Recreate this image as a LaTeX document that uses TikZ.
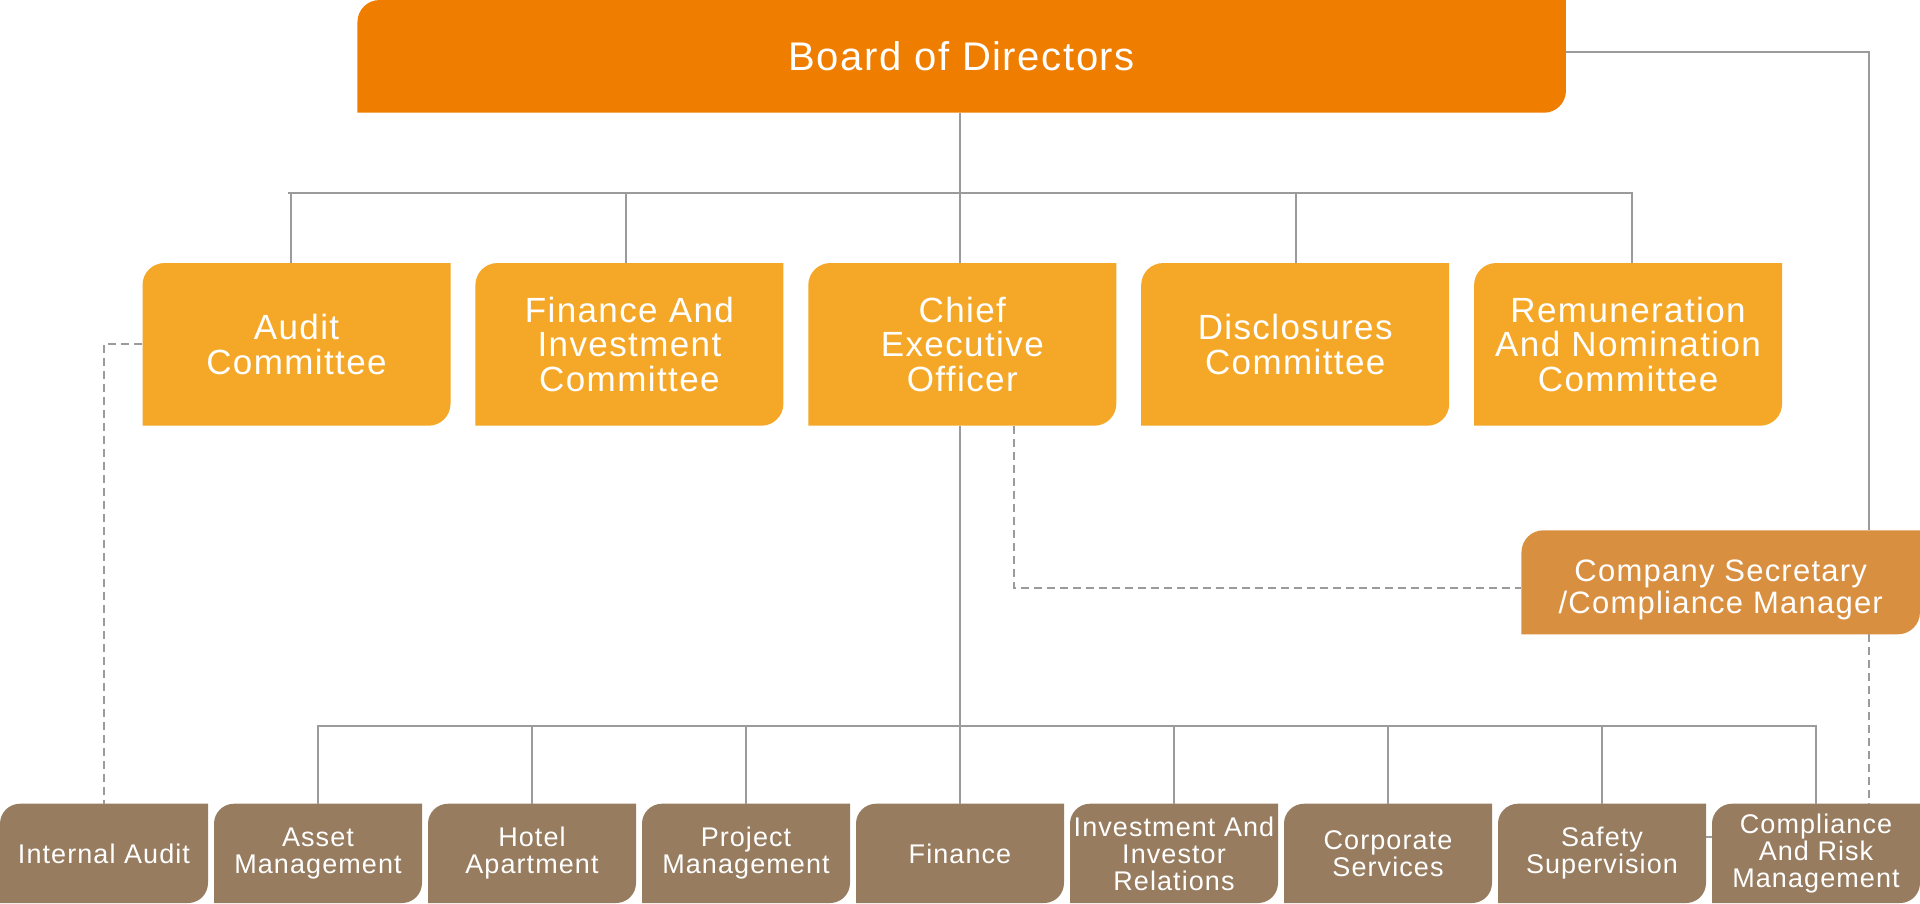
\documentclass[tikz,border=0pt]{standalone}
\usepackage{fontspec}
\setmainfont{Liberation Sans}[LetterSpace=4]
\definecolor{boardorange}{HTML}{EF7D00}
\definecolor{comorange}{HTML}{F5A828}
\definecolor{secorange}{HTML}{D98F40}
\definecolor{deptbrown}{HTML}{977C5F}
\definecolor{linegray}{HTML}{9B9B9B}
\begin{document}
\begin{tikzpicture}[x=1pt,y=1pt,
    box/.style 2 args={inner sep=0pt, text=white, align=center,
      path picture={\fill[#1] (path picture bounding box.south west)
        -- ([yshift=-#2]path picture bounding box.north west)
        arc[start angle=180,end angle=90,radius=#2]
        -- (path picture bounding box.north east)
        -- ([yshift=#2]path picture bounding box.south east)
        arc[start angle=0,end angle=-90,radius=#2] -- cycle;}},
    board/.style={box={boardorange}{22pt}, minimum width=1208.5, minimum height=112.7,
      font=\fontsize{40}{40}\selectfont},
    com/.style={box={comorange}{22pt}, minimum width=308, minimum height=162.7,
      font=\fontsize{35}{34.5}\selectfont},
    sec/.style={box={secorange}{22pt}, minimum width=398.5, minimum height=104,
      font=\fontsize{31}{30}\selectfont},
    dept/.style={box={deptbrown}{20pt}, minimum width=208, minimum height=99.3,
      font=\fontsize{27}{27}\selectfont},
    solidlink/.style={draw=linegray, line width=2pt},
    dashlink/.style={draw=linegray, line width=2pt, dash pattern=on 8pt off 5pt}]
  \useasboundingbox (0,0) rectangle (1920,904);
  \node[board] (bd) at (961.7,847.6) {Board of Directors};
  \node[com] (ac) at (296.5,559.6) {Audit\\Committee};
  \node[com] (fic) at (629.4,559.6) {Finance And\\Investment\\Committee};
  \node[com] (ceo) at (962.3,559.6) {Chief\\Executive\\Officer};
  \node[com] (dc) at (1295.2,559.6) {Disclosures\\Committee};
  \node[com] (rnc) at (1628.1,559.6) {Remuneration\\And Nomination\\Committee};
  \node[sec] (cs) at (1720.7,321.7) {\raisebox{-15pt}[0pt][0pt]{\begin{tabular}{@{}c@{}}Company Secretary\\/Compliance Manager\end{tabular}}};
  \node[dept] (ia) at (104,50.6) {Internal Audit};
  \node[dept] (am) at (318,50.6) {Asset\\Management};
  \node[dept] (ha) at (532,50.6) {Hotel\\Apartment};
  \node[dept] (pm) at (746,50.6) {Project\\Management};
  \node[dept] (fin) at (960,50.6) {Finance};
  \node[dept] (iir) at (1174,50.6) {Investment And\\Investor\\Relations};
  \node[dept] (cps) at (1388,50.6) {Corporate\\Services};
  \node[dept] (ss) at (1602,50.6) {Safety\\Supervision};
  \node[dept] (crm) at (1816,50.6) {Compliance\\And Risk\\Management};
  \begin{scope}[solidlink]
    \draw ([xshift=-1.7]bd.south) -- ++(0,-79.6) coordinate (cbus);
    \draw ([xshift=-9]cbus -| ac.north) -- (cbus -| rnc.north);
    \foreach \n/\dx in {ac/-5.5,fic/-3.6,ceo/-2.3,dc/0.8,rnc/3.6}
      \draw (cbus) -| ([xshift=\dx]\n.north);
    \draw ([xshift=-2.3]ceo.south) -- ++(0,-300.3) coordinate (dbus);
    \foreach \n in {am,ha,pm,fin,iir,cps,ss,crm}
      \draw (dbus) -| (\n.north);
    \draw ([yshift=4]bd.east) -| ([xshift=148.6]cs.north);
    \draw ([yshift=16]ss.east) -- ([yshift=16]crm.west);
  \end{scope}
  \begin{scope}[dashlink]
    \draw (ac.west) -| (ia.north);
    \draw ([xshift=52]ceo.south) |- ([yshift=-6]cs.west);
    \draw ([xshift=148.6]cs.south) -- ([xshift=148.6]cs.south |- crm.north);
  \end{scope}
\end{tikzpicture}
\end{document}
